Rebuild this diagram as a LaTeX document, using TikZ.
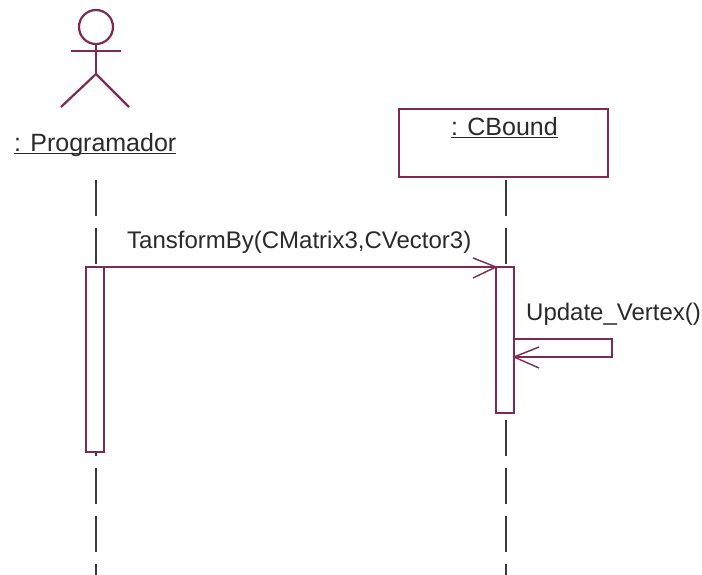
\documentclass[tikz,border=0pt]{standalone}
\usepackage{fontspec}
\setmainfont{Liberation Sans}
\definecolor{umlline}{HTML}{7D2A55}
\definecolor{lifeln}{HTML}{3A3A3A}
\definecolor{txt}{HTML}{2A2A2A}
\tikzset{
  x=1pt,y=-1pt,
  label text/.style={inner sep=0pt,anchor=base west,text=txt,font=\fontsize{24}{26}\selectfont},
  name text/.style={label text,font=\fontsize{25}{27}\selectfont},
  lifeline/.style={draw=lifeln,line width=2.2pt,dash pattern=on 36pt off 12pt},
  umlshape/.style={draw=umlline,line width=2.2pt},
  actbar/.style={umlshape,fill=white,inner sep=0pt,outer sep=0pt,minimum width=18pt,anchor=north west},
  objbox/.style={umlshape,fill=white,inner sep=0pt,outer sep=0pt,minimum width=209pt,minimum height=68pt,anchor=north west},
  message/.style={draw=umlline,line width=2.2pt},
  barb/.style={draw=umlline,line width=1.4pt},
}
\begin{document}
\begin{tikzpicture}
\useasboundingbox[fill=white] (0,0) rectangle (702,575);
% named points
\coordinate (lifeA) at (96,180);
\coordinate (lifeAend) at (96,575);
\coordinate (lifeB) at (506,180);
\coordinate (lifeBend) at (506,575);
% lifelines
\draw[lifeline] (lifeA) -- (lifeAend);
\draw[lifeline] (lifeB) -- (lifeBend);
% actor
\node[circle,umlshape,minimum size=34pt,inner sep=0pt,outer sep=0pt] (head) at (96,27) {};
\coordinate (neck) at (96,74);
\coordinate (armL) at (71,51);
\coordinate (armR) at (121,51);
\coordinate (footL) at (61,107);
\coordinate (footR) at (129,107);
\draw[umlshape] (head.south) -- (neck);
\draw[umlshape] (armL) -- (armR);
\draw[umlshape] (footL) -- (neck) -- (footR);
\node[name text] (actorname) at (14,152) {\underline{\smash{: Programador}}};
% object
\node[objbox] (bound) at (399,109) {};
\node[name text] (boundname) at (451,136) {\underline{\smash{: CBound}}};
% activations
\node[actbar,minimum height=185pt] (actA) at (86,267) {};
\node[actbar,minimum height=146pt] (actB) at (496,267) {};
% call message
\draw[message] (actA.north east) -- (actB.north west);
\draw[barb] (473,258) -- (actB.north west) -- (473,278);
\node[label text] (callname) at (127,248) {TansformBy(CMatrix3,CVector3)};
% self message
\coordinate (selfA) at (514,339);
\coordinate (selfB) at (612,339);
\coordinate (selfC) at (612,357);
\coordinate (selfD) at (514,357);
\draw[message] (selfA) -- (selfB) -- (selfC) -- (selfD);
\draw[barb] (539,347) -- (selfD) -- (539,368);
\node[label text] (selfname) at (526,320) {Update\_Vertex()};
\end{tikzpicture}
\end{document}
